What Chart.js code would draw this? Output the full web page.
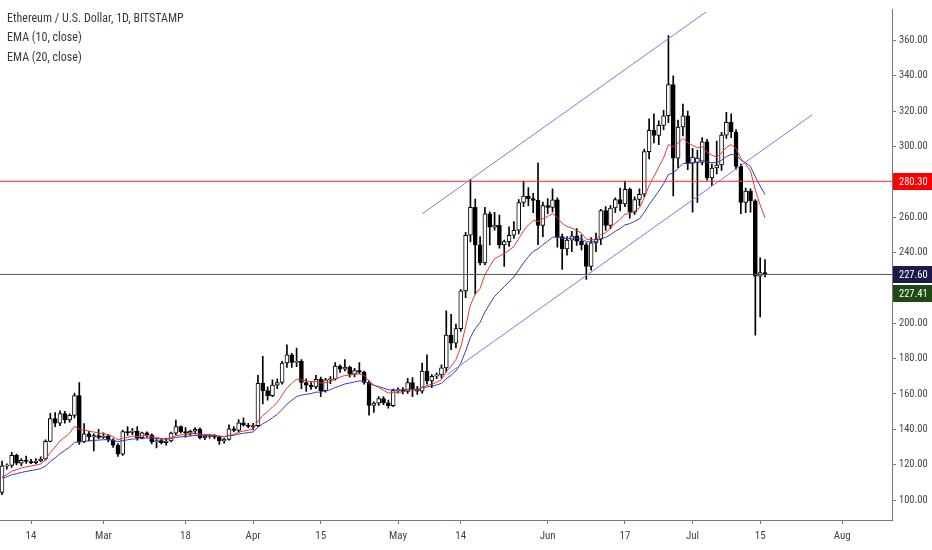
<!DOCTYPE html>
<html>
<head>
<meta charset="utf-8">
<script src="https://cdn.jsdelivr.net/npm/chart.js@4.4.1/dist/chart.umd.min.js"></script>
<style>
  html, body { margin: 0; padding: 0; background: #fff; }
  #wrap { position: relative; width: 932px; height: 550px; }
  #legend {
    position: absolute; left: 7px; top: 9px;
    font: 12px 'Roboto Condensed', 'DejaVu Sans Condensed', sans-serif;
    color: #3a3a3a; line-height: 19.3px; pointer-events: none;
  }
</style>
</head>
<body>
<div id="wrap">
  <canvas id="chart"></canvas>
  <div id="legend">
    <div>Ethereum / U.S. Dollar, 1D, BITSTAMP</div>
    <div>EMA (10, close)</div>
    <div>EMA (20, close)</div>
  </div>
</div>
<script>
// ETH/USD daily candles, 2019-02-08 .. 2019-07-16 (one value per day)
var firstDay = Date.UTC(2019, 1, 8);
var refDay = Date.UTC(2019, 1, 14);   // x = 0 on the time axis

var open = [
  104.3, 119.3, 119.6, 125.3, 120.8, 122.4, 121.8, 121.2, 122.1, 123.2, 133.2, 146.1, 143.5, 148.9, 145.3, 147.9, 159.1, 133, 137.5, 135.8, 136.4,
  135.4, 136.2, 134, 131, 126, 138.7, 138.2, 139, 135.3, 138, 136.9, 133, 133.6, 132.5, 133.4, 137.8, 141.5, 138.7, 137.8, 138.9, 140, 135.3, 136, 136.5, 135.6, 133.5, 134.3, 140.3, 139.4, 143.6, 142.4,
  141.6, 142.1, 166, 161.9, 159.1, 165, 166.5, 177.5, 182.2, 177.8, 178.5, 166.5, 165, 164, 168.3, 161.9, 168, 168.4, 175.8, 174, 175.2, 171.2, 173.2, 172.3, 166.5, 153.5, 154.8, 157.4, 155, 153.4,
  161.9, 162.2, 161.4, 166.5, 162.8, 161.6, 172.9, 167.4, 170, 170.8, 174.8, 193.3, 188.7, 197, 218.3, 249.8, 265.6, 244.3, 234.1, 261.9, 254.4, 255.5, 244.3, 246.2, 249.8, 252.6, 268.3, 272, 270.5, 269.5, 255.4,
  266.5, 265.5, 269.8, 249, 242, 247, 249.5, 246.5, 244.3, 232.2, 245.5, 247.5, 263.7, 255.4, 265.2, 270, 267.5, 275.8, 262.8, 270, 273, 297.1, 309.1, 306.3, 311.9, 317.4, 335, 293.4, 311, 317.4,
  290.6, 291, 291, 302.6, 282.2, 287.8, 289.5, 306.4, 313.7, 308.2, 288.7, 268.3, 274.8, 269.3, 226.7, 228.6
];
var high = [
  122, 120.5, 127, 126, 123.5, 124.8, 123, 123.5, 124.5, 134, 149, 149.5, 150.5, 150.2, 148.8, 160.5, 166.5, 143.3, 139, 137.5, 140,
  138, 137, 134.8, 132, 139.5, 141.5, 140.5, 141.5, 138.5, 138.6, 137.5, 134.3, 134.7, 135, 138.5, 145.2, 142, 141, 139.5, 141, 140.8, 137, 137.2, 137, 136.2, 135, 142.5, 141.5, 145.5, 146.5, 143.4,
  143.4, 170.5, 181.3, 164, 168, 168.5, 178.5, 187.8, 183, 186, 179.5, 168.5, 166.8, 170.5, 169.5, 168.8, 169.8, 177.7, 176.5, 179.4, 175.8, 174.5, 177.8, 173, 167.5, 155.5, 158.5, 158.5, 156.5, 162.8,
  163.5, 163.6, 168.8, 169.3, 164.3, 177.5, 182.2, 171, 172, 176.5, 207, 205, 199.5, 219, 251.5, 281.3, 270.2, 249, 265.6, 263, 262.8, 261.2, 247, 254.5, 257.5, 270, 280.4, 276.7, 273.5, 290.6, 268.5,
  270.5, 276, 271, 250.5, 249, 252, 253.5, 250, 245.5, 248.5, 251, 264.5, 266, 266.5, 271, 276.5, 280.4, 276.5, 271.5, 276, 298.5, 315.7, 318.5, 314.5, 320.5, 362.8, 340, 315, 324, 320,
  299, 298, 305, 304, 290, 303, 308, 319.3, 318.5, 309.5, 290, 276.5, 276, 270, 237, 236
];
var low = [
  103, 117.5, 118.5, 119.8, 119.5, 120.7, 120.5, 120.4, 121.6, 122.5, 132.8, 141.5, 142, 143.5, 144, 146.5, 131.5, 132.5, 133.5, 127.8, 134.5,
  134.8, 132.8, 129.8, 124.6, 125.3, 136.5, 137, 133.8, 134.5, 135.5, 131.8, 129.5, 131.7, 131, 132.8, 136.8, 137.8, 135.5, 136.6, 137.2, 134.5, 134.2, 135, 134.5, 131.5, 132.2, 133.8, 138.5, 138.4, 141.8, 140.8,
  139.7, 141.5, 154.4, 156.5, 158.5, 163, 165.5, 175, 175, 175.5, 163, 161.5, 162.5, 163, 158.5, 161, 165.8, 167.8, 172.2, 173, 169.5, 169.6, 171.5, 165.5, 148, 149.5, 153.5, 154, 152, 152.8,
  160.5, 160, 160.3, 158.5, 159.8, 160.5, 165.5, 163.5, 168.7, 169, 172.5, 185, 186, 195.5, 214.5, 246, 216.5, 233, 233, 244.3, 252.6, 242.5, 232.2, 243.5, 248, 250.5, 266, 266.5, 262.5, 244.5, 249,
  262, 263, 243, 230.5, 238.5, 240.5, 244, 241.5, 224.8, 230, 240.5, 244.5, 252.5, 253.5, 262.5, 263.5, 266, 259.5, 261.5, 266.5, 271.5, 293, 302, 301, 309.5, 313.5, 272, 288, 306, 286.9,
  262.8, 268.3, 289.5, 281, 278, 284.5, 286.5, 304.5, 305, 287, 262, 262.5, 262.8, 193.3, 203.6, 226.2
];
var close = [
  119.3, 119.6, 125.3, 120.8, 122.4, 121.8, 121.2, 122.1, 123.2, 133.2, 146.1, 143.5, 148.9, 145.3, 147.9, 159.1, 133, 137.5, 135.8, 136.4, 135.4,
  136.2, 134, 131, 126, 138.7, 138.2, 139, 135.3, 138, 136.9, 133, 133.6, 132.5, 133.4, 137.8, 141.5, 138.7, 137.8, 138.9, 140, 135.3, 136, 136.5, 135.6, 133.5, 134.3, 140.3, 139.4, 143.6, 142.4, 141.6,
  142.1, 166, 161.9, 159.1, 165, 166.5, 177.5, 182.2, 177.8, 178.5, 166.5, 165, 164, 168.3, 161.9, 168, 168.4, 175.8, 174, 175.2, 171.2, 173.2, 172.3, 166.5, 153.5, 154.8, 157.4, 155, 153.4, 161.9,
  162.2, 161.4, 166.5, 162.8, 161.6, 172.9, 167.4, 170, 170.8, 174.8, 193.3, 188.7, 197, 218.3, 249.8, 265.6, 244.3, 234.1, 261.9, 254.4, 255.5, 244.3, 246.2, 249.8, 252.6, 268.3, 272, 270.5, 269.5, 255.4, 266.5,
  265.5, 269.8, 249, 242, 247, 249.5, 246.5, 244.3, 232.2, 245.5, 247.5, 263.7, 255.4, 265.2, 270, 267.5, 275.8, 262.8, 270, 273, 297.1, 309.1, 306.3, 311.9, 317.4, 335, 293.4, 311, 317.4, 290.6,
  294, 293.5, 302.6, 282.2, 287.8, 289.5, 306.4, 313.7, 308.2, 288.7, 268.3, 274.8, 269.3, 226.7, 228.6, 227.41
];

// EMA values just before the first visible candle
var ema10Seed = 111.8;
var ema20Seed = 111.7;

// horizontal levels and channel drawings: [day, price]
var resistance = 280.30;
var support = 227.60;
var lastPrice = 227.41;
var upperChannel = [[81.0, 261.9], [139.8, 376.1]];
var lowerChannel = [[86.2, 171.0], [161.8, 318.0]];

// axes
var xMin = -6.42, xMax = 178.3;
var yMin = 88.7, yMax = 377.6;
var tickDays = [0, 15, 32, 46, 60, 76, 89, 107, 123, 137, 151, 168];
var tickLabels = ['14', 'Mar', '18', 'Apr', '15', 'May', '14', 'Jun', '17', 'Jul', '15', 'Aug'];
var priceTicks = [100, 120, 140, 160, 180, 200, 220, 240, 260, 280, 300, 320, 340, 360];

var FONT = "'Roboto Condensed', 'DejaVu Sans Condensed', sans-serif";

function ema(values, period, seed) {
    var k = 2 / (period + 1), prev = seed;
    return values.map(function(v) {
        prev = prev + k * (v - prev);
        return prev;
    });
}

var offset = Math.round((firstDay - refDay) / 864e5);
var days = close.map(function(c, i) { return offset + i; });

var wicks = days.map(function(d, i) { return { x: d, y: [low[i], high[i]] }; });
var bodies = days.map(function(d, i) {
    var lo = Math.min(open[i], close[i]), hi = Math.max(open[i], close[i]);
    if (hi - lo < 0.6) { var m = (hi + lo) / 2; lo = m - 0.3; hi = m + 0.3; }
    return { x: d, y: [lo, hi] };
});
var bodyColors = days.map(function(d, i) { return close[i] >= open[i] ? '#ffffff' : '#000000'; });

var ema10 = ema(close, 10, ema10Seed).map(function(v, i) { return { x: days[i], y: v }; });
var ema20 = ema(close, 20, ema20Seed).map(function(v, i) { return { x: days[i], y: v }; });

function pts(pairs) { return pairs.map(function(p) { return { x: p[0], y: p[1] }; }); }
function level(v) { return [{ x: xMin, y: v }, { x: xMax, y: v }]; }

function lineSet(data, color, order) {
    return {
        type: 'line', data: data, borderColor: color, borderWidth: 1,
        pointRadius: 0, tension: 0, fill: false, order: order
    };
}

// price tags on the right axis: [text value, anchor price, colour, pixel shift]
var tags = [
    [resistance, resistance, '#ff0000', 0],
    [support, support, '#1b1948', 0],
    [lastPrice, support, '#1f4a16', 19]
];

var priceTags = {
    id: 'priceTags',
    afterDraw: function(chart) {
        var ctx = chart.ctx, y = chart.scales.y, area = chart.chartArea;
        ctx.save();
        ctx.font = '10.5px ' + FONT;
        ctx.textBaseline = 'middle';
        ctx.textAlign = 'left';
        tags.forEach(function(t) {
            var py = Math.round(y.getPixelForValue(t[1])) + t[3];
            ctx.fillStyle = t[2];
            ctx.fillRect(area.right + 1, py - 8, chart.width - area.right, 17);
            ctx.fillStyle = '#ffffff';
            ctx.fillText(t[0].toFixed(2), area.right + 7, py + 1);
        });
        ctx.restore();
    }
};

new Chart(document.getElementById('chart'), {
    type: 'bar',
    data: {
        datasets: [
            lineSet(pts(upperChannel), '#8478d8', 1),
            lineSet(pts(lowerChannel), '#8478d8', 1),
            lineSet(level(resistance), '#ff2a2a', 2),
            lineSet(level(support), '#555555', 2),
            lineSet(ema10, '#e03c31', 3),
            lineSet(ema20, '#3b3bb8', 4),
            {
                type: 'bar', data: bodies, backgroundColor: bodyColors, borderColor: '#000000',
                borderWidth: 1, borderSkipped: false, barThickness: 4, grouped: false, order: 5
            },
            {
                type: 'bar', data: wicks, backgroundColor: '#000000',
                borderWidth: 0, barThickness: 1, grouped: false, order: 6
            }
        ]
    },
    options: {
        responsive: true,
        maintainAspectRatio: false,
        animation: false,
        layout: { padding: 0 },
        plugins: {
            legend: { display: false },
            tooltip: { enabled: false }
        },
        scales: {
            x: {
                type: 'linear',
                min: xMin,
                max: xMax,
                offset: false,
                grid: { offset: false, drawOnChartArea: false, drawTicks: true, tickLength: 4, color: '#777777' },
                border: { color: '#777777', width: 1 },
                ticks: {
                    autoSkip: false, maxRotation: 0, padding: 6, color: '#444444',
                    font: { family: FONT, size: 11 },
                    callback: function(value, index) { return tickLabels[index]; }
                },
                afterBuildTicks: function(scale) {
                    scale.ticks = tickDays.map(function(v) { return { value: v }; });
                },
                afterFit: function(scale) { scale.height = 30; }
            },
            y: {
                position: 'right',
                min: yMin,
                max: yMax,
                grid: { drawOnChartArea: false, drawTicks: true, tickLength: 4, color: '#777777' },
                border: { color: '#777777', width: 1 },
                ticks: {
                    padding: 3, color: '#444444',
                    font: { family: FONT, size: 10.5 },
                    callback: function(value) {
                        // labels hidden behind a price tag are skipped
                        var py = this.getPixelForValue(value);
                        var hidden = tags.some(function(t) {
                            return Math.abs(this.getPixelForValue(t[1]) + t[3] - py) < 13;
                        }, this);
                        return hidden ? '' : value.toFixed(2);
                    }
                },
                afterBuildTicks: function(scale) {
                    scale.ticks = priceTicks.map(function(v) { return { value: v }; });
                },
                afterFit: function(scale) { scale.width = 40; }
            }
        }
    },
    plugins: [priceTags]
});
</script>
</body>
</html>
